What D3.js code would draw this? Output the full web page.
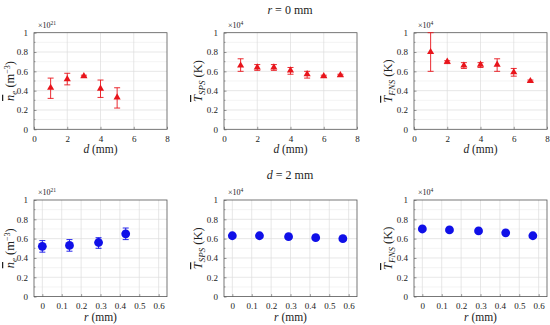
<!DOCTYPE html>
<html>
<head>
<meta charset="utf-8">
<script src="https://cdn.jsdelivr.net/npm/d3@7"></script>
<style>
  body { margin: 0; background: #fff; }
  text { font-family: "Liberation Serif", "DejaVu Serif", serif; fill: #222; }
</style>
</head>
<body>
<svg id="chart" width="550" height="325"></svg>
<script>
// positions along the axis
const dPos = [1, 2, 3, 4, 5, 6, 7];
const rPos = [0, 0.14, 0.29, 0.43, 0.57];
const dTicks = [0, 2, 4, 6, 8];
const rTicks = [0, 0.1, 0.2, 0.3, 0.4, 0.5, 0.6];
const yTicks = [0, 0.2, 0.4, 0.6, 0.8, 1];

// r = 0 mm, against d
const neDMean = [0.43, 0.52, 0.55, 0.42, 0.33];
const neDLow = [0.32, 0.46, 0.54, 0.33, 0.22];
const neDHigh = [0.53, 0.58, 0.56, 0.51, 0.43];
const spsDMean = [0.66, 0.64, 0.64, 0.61, 0.57, 0.55, 0.56];
const spsDLow = [0.60, 0.61, 0.61, 0.57, 0.53, 0.54, 0.55];
const spsDHigh = [0.73, 0.67, 0.67, 0.64, 0.60, 0.56, 0.57];
const fnsDMean = [0.80, 0.70, 0.66, 0.67, 0.67, 0.59, 0.50];
const fnsDLow = [0.60, 0.68, 0.63, 0.64, 0.60, 0.55, 0.49];
const fnsDHigh = [1.00, 0.71, 0.69, 0.69, 0.73, 0.63, 0.51];

// d = 2 mm, against r
const neRMean = [0.52, 0.53, 0.56, 0.65];
const neRLow = [0.46, 0.47, 0.50, 0.59];
const neRHigh = [0.58, 0.59, 0.61, 0.71];
const spsRMean = [0.63, 0.63, 0.62, 0.61, 0.60];
const spsRLow = [0.61, 0.61, 0.60, 0.59, 0.58];
const spsRHigh = [0.65, 0.65, 0.64, 0.63, 0.62];
const fnsRMean = [0.70, 0.69, 0.68, 0.66, 0.63];

const svg = d3.select('#chart');
const colX = [34, 224, 414];
const rowY = [32.7, 200];
const boxW = 133;
const boxH = 96.6;
const red = '#e8141b';
const blue = '#1010e8';

const zip = (xs, m, lo, hi) => xs.slice(0, m.length).map((x, i) => ({
  x, m: m[i], lo: lo ? lo[i] : m[i], hi: hi ? hi[i] : m[i],
}));

const panels = [
  { col: 0, row: 0, pts: zip(dPos, neDMean, neDLow, neDHigh), kind: 'd', q: 'ne' },
  { col: 1, row: 0, pts: zip(dPos, spsDMean, spsDLow, spsDHigh), kind: 'd', q: 'SPS' },
  { col: 2, row: 0, pts: zip(dPos, fnsDMean, fnsDLow, fnsDHigh), kind: 'd', q: 'FNS' },
  { col: 0, row: 1, pts: zip(rPos, neRMean, neRLow, neRHigh), kind: 'r', q: 'ne' },
  { col: 1, row: 1, pts: zip(rPos, spsRMean, spsRLow, spsRHigh), kind: 'r', q: 'SPS' },
  { col: 2, row: 1, pts: zip(rPos, fnsRMean), kind: 'r', q: 'FNS' },
];

function yLabel(g, q) {
  const t = g.append('text').attr('text-anchor', 'middle').attr('font-size', 12.5);
  if (q === 'ne') {
    t.append('tspan').attr('font-style', 'italic').style('text-decoration', 'overline').text('n');
    t.append('tspan').attr('font-style', 'italic').attr('font-size', 9).attr('dy', 2.5).text('e');
    t.append('tspan').attr('dy', -2.5).text(' (m');
    t.append('tspan').attr('font-size', 8).attr('dy', -4.5).text('−3');
    t.append('tspan').attr('dy', 4.5).text(')');
  } else {
    t.append('tspan').attr('font-style', 'italic').style('text-decoration', 'overline').text('T');
    t.append('tspan').attr('font-style', 'italic').attr('font-size', 9).attr('dy', 2.5).text(q);
    t.append('tspan').attr('dy', -2.5).text(' (K)');
  }
  return t;
}

panels.forEach(p => {
  const x0 = colX[p.col];
  const y0 = rowY[p.row];
  const g = svg.append('g').attr('transform', `translate(${x0},${y0})`);
  const xDomain = p.kind === 'd' ? [0, 8] : [-0.043, 0.643];
  const xTickVals = p.kind === 'd' ? dTicks : rTicks;
  const x = d3.scaleLinear().domain(xDomain).range([0, boxW]);
  const y = d3.scaleLinear().domain([0, 1]).range([boxH, 0]);

  // minor horizontal grid
  g.append('g').selectAll('line')
    .data(d3.range(0.1, 1, 0.2))
    .join('line')
    .attr('x1', 0).attr('x2', boxW)
    .attr('y1', d => y(d)).attr('y2', d => y(d))
    .attr('stroke', '#ececec').attr('stroke-width', 0.6);

  // major grid
  g.append('g').selectAll('line')
    .data(yTicks.slice(1, -1))
    .join('line')
    .attr('x1', 0).attr('x2', boxW)
    .attr('y1', d => y(d)).attr('y2', d => y(d))
    .attr('stroke', '#dcdcdc').attr('stroke-width', 0.7);
  g.append('g').selectAll('line')
    .data(xTickVals.filter(v => x(v) > 1 && x(v) < boxW - 1))
    .join('line')
    .attr('x1', d => x(d)).attr('x2', d => x(d))
    .attr('y1', 0).attr('y2', boxH)
    .attr('stroke', '#dcdcdc').attr('stroke-width', 0.7);

  // axes (ticks inside)
  const xAxis = g.append('g').attr('transform', `translate(0,${boxH})`)
    .call(d3.axisBottom(x).tickValues(xTickVals).tickSize(-2.5).tickPadding(6)
      .tickFormat(d => d3.format('~g')(d)));
  const yAxis = g.append('g')
    .call(d3.axisLeft(y).tickValues(yTicks).tickSize(-2.5).tickPadding(6)
      .tickFormat(d => d3.format('~g')(d)));
  [xAxis, yAxis].forEach(a => {
    a.select('.domain').remove();
    a.selectAll('.tick line').attr('stroke', '#555').attr('stroke-width', 0.6);
    a.selectAll('.tick text').attr('font-size', 9)
      .attr('font-family', '"Liberation Serif", serif').attr('fill', '#222');
  });
  // minor y ticks
  g.append('g').selectAll('line')
    .data(d3.range(0.1, 1, 0.2))
    .join('line')
    .attr('x1', 0).attr('x2', 1.5)
    .attr('y1', d => y(d)).attr('y2', d => y(d))
    .attr('stroke', '#555').attr('stroke-width', 0.5);

  g.append('rect')
    .attr('width', boxW).attr('height', boxH)
    .attr('fill', 'none').attr('stroke', '#555').attr('stroke-width', 0.8);

  // exponent
  const ex = g.append('text').attr('x', 4).attr('y', -5).attr('font-size', 8);
  ex.append('tspan').text('×10');
  ex.append('tspan').attr('font-size', 5.5).attr('dy', -3).text(p.q === 'ne' ? '21' : '4');

  // labels
  const xl = g.append('text')
    .attr('x', boxW / 2).attr('y', boxH + 24)
    .attr('text-anchor', 'middle').attr('font-size', 11.5);
  xl.append('tspan').attr('font-style', 'italic').text(p.kind);
  xl.append('tspan').text(' (mm)');

  yLabel(g, p.q).attr('transform', `translate(${p.col === 0 ? -20 : -22},${boxH / 2}) rotate(-90)`);

  // error bars
  const color = p.row === 0 ? red : blue;
  const eb = g.append('g').attr('stroke', color).attr('stroke-width', 0.9);
  const withErr = p.pts.filter(d => d.hi > d.lo);
  eb.selectAll('.v').data(withErr).join('line')
    .attr('x1', d => x(d.x)).attr('x2', d => x(d.x))
    .attr('y1', d => y(Math.min(d.hi, 1))).attr('y2', d => y(d.lo));
  eb.selectAll('.t').data(withErr).join('line')
    .attr('x1', d => x(d.x) - 3).attr('x2', d => x(d.x) + 3)
    .attr('y1', d => y(Math.min(d.hi, 1))).attr('y2', d => y(Math.min(d.hi, 1)));
  eb.selectAll('.b').data(withErr).join('line')
    .attr('x1', d => x(d.x) - 3).attr('x2', d => x(d.x) + 3)
    .attr('y1', d => y(d.lo)).attr('y2', d => y(d.lo));

  // markers
  if (p.row === 0) {
    g.append('g').selectAll('path').data(p.pts).join('path')
      .attr('d', d3.symbol(d3.symbolTriangle, 22))
      .attr('transform', d => `translate(${x(d.x)},${y(d.m)})`)
      .attr('fill', red);
  } else {
    g.append('g').selectAll('circle').data(p.pts).join('circle')
      .attr('cx', d => x(d.x)).attr('cy', d => y(d.m))
      .attr('r', 4.4).attr('fill', blue);
  }
});

// row titles
const t1 = svg.append('text').attr('x', 290).attr('y', 14)
  .attr('text-anchor', 'middle').attr('font-size', 12);
t1.append('tspan').attr('font-style', 'italic').text('r');
t1.append('tspan').text(' = 0 mm');
const t2 = svg.append('text').attr('x', 290).attr('y', 179)
  .attr('text-anchor', 'middle').attr('font-size', 12);
t2.append('tspan').attr('font-style', 'italic').text('d');
t2.append('tspan').text(' = 2 mm');
</script>
</body>
</html>
